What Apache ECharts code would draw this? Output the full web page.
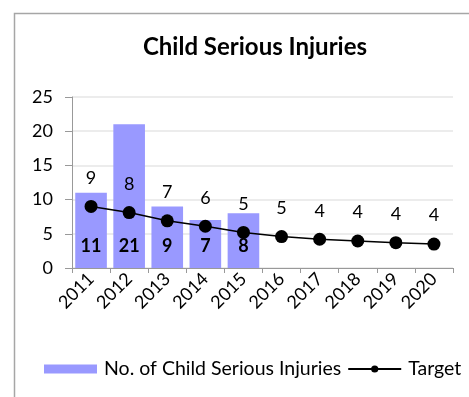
<!DOCTYPE html>
<html>
<head>
<meta charset="utf-8">
<script src="https://cdn.jsdelivr.net/npm/echarts@6/dist/echarts.min.js"></script>
<style>
html,body{margin:0;padding:0;background:#fff;}
#c{width:469px;height:397px;}
</style>
</head>
<body>
<div id="c"></div>
<script>
var categories = ['2011','2012','2013','2014','2015','2016','2017','2018','2019','2020'];
var injuries = [11, 21, 9, 7, 8, null, null, null, null, null];
var target = [9, 8.1, 6.9, 6.1, 5.2, 4.6, 4.2, 3.95, 3.7, 3.5];
var yTicks = [0, 5, 10, 15, 20, 25];
var FONT = 'Lato, "Open Sans", sans-serif';

var chart = echarts.init(document.getElementById('c'), null, {renderer: 'canvas'});
chart.setOption({
  animation: false,
  textStyle: {fontFamily: FONT},
  title: {
    text: 'Child Serious Injuries',
    left: 250, top: 30, textAlign: 'center',
    textStyle: {fontFamily: FONT, fontSize: 24, fontWeight: 'bold', color: '#000'}
  },
  graphic: [{
    type: 'polyline',
    shape: {points: [[14.5, 400], [14.5, 13.5], [480, 13.5]]},
    style: {stroke: '#a6a6a6', lineWidth: 1.5, fill: null},
    silent: true
  }],
  legend: {
    left: 44, top: 359, padding: 0,
    itemGap: 6,
    itemWidth: 53, itemHeight: 9,
    textStyle: {fontFamily: FONT, fontSize: 19.5, color: '#000', padding: [0,0,0,2]},
    data: [
      {name: 'No. of Child Serious Injuries', icon: 'rect'},
      {name: 'Target'}
    ]
  },
  grid: {left: 72, right: 16, top: 97, bottom: 129},
  xAxis: {
    type: 'category',
    data: categories,
    boundaryGap: true,
    axisLine: {lineStyle: {color: '#999', width: 1}},
    axisTick: {show: true, alignWithLabel: false, length: 5, lineStyle: {color: '#999'}},
    axisLabel: {rotate: 45, fontSize: 18, color: '#000', margin: 8, fontFamily: FONT}
  },
  yAxis: {
    type: 'value',
    min: yTicks[0], max: yTicks[yTicks.length - 1], interval: 5,
    axisLine: {show: true, lineStyle: {color: '#999'}},
    axisTick: {show: true, length: 7, lineStyle: {color: '#999'}},
    splitLine: {lineStyle: {color: '#e6e6e6', width: 1.5}},
    axisLabel: {fontSize: 18, color: '#000', margin: 19, fontFamily: FONT}
  },
  series: [
    {
      name: 'No. of Child Serious Injuries',
      type: 'bar',
      data: injuries,
      barCategoryGap: '17%',
      itemStyle: {color: '#9999ff'},
      label: {
        show: true, position: 'insideBottom', distance: 13,
        fontSize: 18, fontWeight: 'bold', color: '#000', fontFamily: FONT
      }
    },
    {
      name: 'Target',
      type: 'line',
      data: target,
      symbol: 'circle', symbolSize: 13,
      lineStyle: {color: '#000', width: 1.5},
      itemStyle: {color: '#000'},
      label: {
        show: true, position: 'top', distance: 13,
        fontSize: 18, color: '#000', fontFamily: FONT,
        formatter: function (p) { return Math.round(p.value); }
      }
    }
  ]
});
</script>
</body>
</html>
